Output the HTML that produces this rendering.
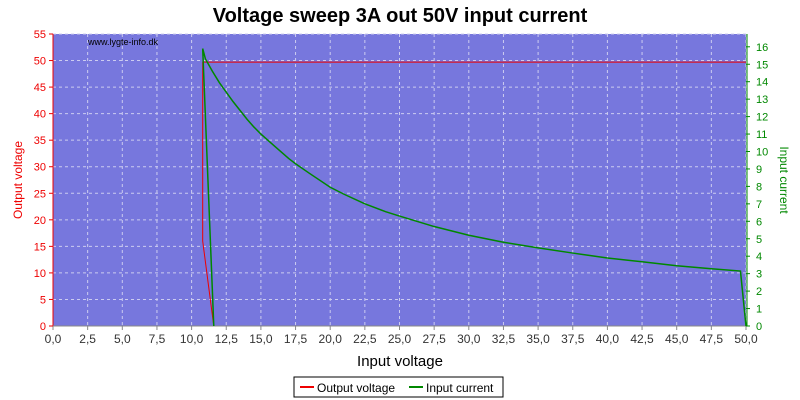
<!DOCTYPE html>
<html><head><meta charset="utf-8"><style>
body{margin:0;background:#fff;}
svg{display:block;font-family:"Liberation Sans",sans-serif;}
</style></head><body>
<svg id="c" width="800" height="400" xmlns="http://www.w3.org/2000/svg">
<text x="400" y="22" text-anchor="middle" font-size="20" font-weight="bold" fill="#000">Voltage sweep 3A out 50V input current</text>
<rect x="53" y="34" width="693" height="292" fill="#7777dd"/>
<g id="grid"></g>
<g id="axes"></g>
<g id="series"></g>
<text x="88" y="45" font-size="9" fill="#000">www.lygte-info.dk</text>
<text x="400" y="366" text-anchor="middle" font-size="15" fill="#000">Input voltage</text>
<text x="22" y="180" text-anchor="middle" font-size="12" fill="#e00" transform="rotate(-90 22 180)">Output voltage</text>
<text x="780" y="180" text-anchor="middle" font-size="12" fill="#080" transform="rotate(90 780 180)">Input current</text>
<g>
<rect x="294" y="377" width="209" height="20" fill="#fff" stroke="#000" stroke-width="1"/>
<line x1="300" y1="387" x2="314" y2="387" stroke="#e00" stroke-width="2"/>
<text x="317" y="392" font-size="12">Output voltage</text>
<line x1="409" y1="387" x2="423" y2="387" stroke="#080" stroke-width="2"/>
<text x="426" y="392" font-size="12">Input current</text>
</g>
</svg>
<script>
const xTicks=[0,2.5,5,7.5,10,12.5,15,17.5,20,22.5,25,27.5,30,32.5,35,37.5,40,42.5,45,47.5,50];
const leftTicks=[0,5,10,15,20,25,30,35,40,45,50,55];
const rightTicks=[0,1,2,3,4,5,6,7,8,9,10,11,12,13,14,15,16];
const voutX=[11.6,10.8,10.8,50];
const voutY=[0,16,49.7,49.7];
const curX=[11.6,10.8,11,11.5,12,12.5,13,13.5,14,14.5,15,16,17,17.5,18.5,20,21,22.5,24,25,27.5,30,32.5,35,37.5,40,42.5,45,47.5,49.6,50];
const curY=[0,15.9,15.3,14.6,13.95,13.4,12.85,12.35,11.85,11.4,11.0,10.3,9.6,9.3,8.75,7.95,7.55,7.0,6.55,6.3,5.7,5.2,4.8,4.48,4.18,3.9,3.68,3.45,3.28,3.15,0];
const X0=53,X1=746,Y0=326,Y1=34;
const sx=v=>X0+v/50*(X1-X0);
const syL=v=>Y0-v/55*(Y0-Y1);
const syR=v=>Y0-v*17.45;
const NS="http://www.w3.org/2000/svg";
function mk(p,t,a){const e=document.createElementNS(NS,t);for(const k in a)e.setAttribute(k,a[k]);p.appendChild(e);return e;}
const grid=document.getElementById('grid'),axes=document.getElementById('axes'),ser=document.getElementById('series');
xTicks.forEach(v=>{
 const x=sx(v);
 const g=mk(grid,'line',{x1:x,y1:Y1,x2:x,y2:Y0,stroke:'#ccccf0','stroke-dasharray':'3,3','stroke-width':1});
 
 
 mk(axes,'line',{x1:x,y1:Y0,x2:x,y2:Y0+4,stroke:'#888'});
 const t=mk(axes,'text',{x:x,y:Y0+17,'text-anchor':'middle','font-size':12,fill:'#333'});
 t.textContent=v.toFixed(1).replace('.',',');
 
 
});
leftTicks.forEach(v=>{
 const y=syL(v);
 const g=mk(grid,'line',{x1:X0,y1:y,x2:X1,y2:y,stroke:'#ccccf0','stroke-dasharray':'3,3','stroke-width':1});
 
 
 mk(axes,'line',{x1:X0-4,y1:y,x2:X0,y2:y,stroke:'#e00'});
 const t=mk(axes,'text',{x:X0-7,y:y+4,'text-anchor':'end','font-size':11,fill:'#e00'});
 t.textContent=v;
 
 
});
rightTicks.forEach(v=>{
 const y=syR(v);
 mk(axes,'line',{x1:X1,y1:y,x2:X1+4,y2:y,stroke:'#080'});
 const t=mk(axes,'text',{x:X1+10,y:y+4,'font-size':11,fill:'#080'});
 t.textContent=v;
 
 
});
mk(axes,'line',{x1:X0,y1:Y1,x2:X0,y2:Y0,stroke:'#e00','stroke-width':1});
mk(axes,'line',{x1:X1+1,y1:Y1,x2:X1+1,y2:Y0,stroke:'#080','stroke-width':1});
mk(axes,'line',{x1:X0,y1:Y0,x2:X1,y2:Y0,stroke:'#888','stroke-width':1});
const vp=mk(ser,'polyline',{points:voutX.map((v,i)=>sx(v)+','+syL(voutY[i])).join(' '),fill:'none',stroke:'#e00','stroke-width':1});


const cp=mk(ser,'polyline',{points:curX.map((v,i)=>sx(v)+','+syR(curY[i])).join(' '),fill:'none',stroke:'#080','stroke-width':1.5});


</script>
</body></html>
